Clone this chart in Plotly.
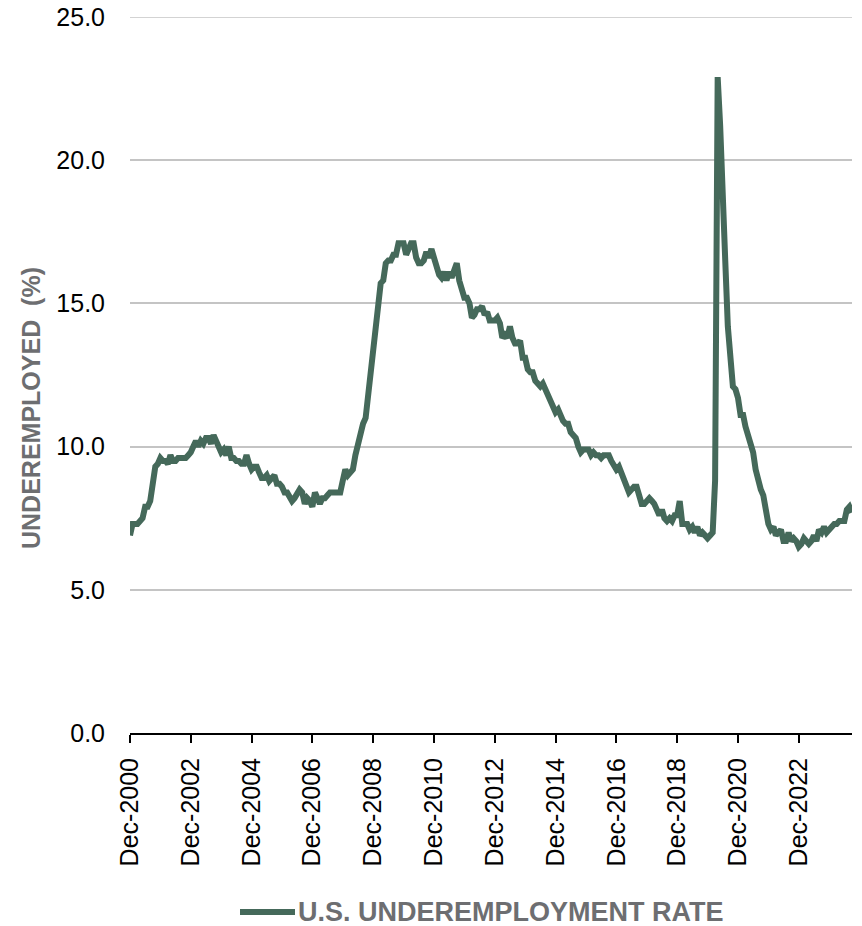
import pandas as pd
import plotly.graph_objects as go

# Monthly U.S. underemployment rate (%), Dec 2000 through Sep 2024
start_month = "2000-12-01"
end_month = "2024-09-01"
rate_2000 = [6.9]
rate_2001 = [7.3, 7.3, 7.3, 7.4, 7.5, 7.9, 7.9, 8.1, 8.7, 9.3, 9.4, 9.6]
rate_2002 = [9.5, 9.5, 9.4, 9.7, 9.5, 9.5, 9.6, 9.6, 9.6, 9.6, 9.7, 9.8]
rate_2003 = [10.0, 10.2, 10.0, 10.2, 10.1, 10.3, 10.3, 10.1, 10.4, 10.2, 10.0, 9.8]
rate_2004 = [9.9, 9.7, 10.0, 9.6, 9.6, 9.5, 9.5, 9.4, 9.4, 9.7, 9.4, 9.2]
rate_2005 = [9.3, 9.3, 9.1, 8.9, 8.9, 9.0, 8.8, 8.9, 9.0, 8.7, 8.7, 8.6]
rate_2006 = [8.4, 8.4, 8.2, 8.1, 8.2, 8.4, 8.5, 8.4, 8.0, 8.2, 8.1, 7.9]
rate_2007 = [8.4, 8.2, 8.0, 8.2, 8.2, 8.3, 8.4, 8.4, 8.4, 8.4, 8.4, 8.8]
rate_2008 = [9.2, 9.0, 9.1, 9.2, 9.7, 10.1, 10.5, 10.8, 11.0, 11.8, 12.6, 13.6]
rate_2009 = [14.2, 15.1, 15.7, 15.8, 16.4, 16.5, 16.5, 16.7, 16.7, 17.1, 17.1, 17.1]
rate_2010 = [16.7, 17.0, 17.1, 17.1, 16.6, 16.4, 16.4, 16.5, 16.8, 16.6, 16.9, 16.6]
rate_2011 = [16.2, 16.0, 15.9, 16.1, 15.8, 16.1, 15.9, 16.1, 16.4, 15.8, 15.5, 15.2]
rate_2012 = [15.2, 15.0, 14.5, 14.6, 14.8, 14.8, 14.9, 14.6, 14.7, 14.4, 14.4, 14.4]
rate_2013 = [14.5, 14.3, 13.8, 13.9, 13.8, 14.2, 13.8, 13.6, 13.6, 13.7, 13.1, 13.1]
rate_2014 = [12.7, 12.6, 12.6, 12.3, 12.2, 12.1, 12.2, 12.0, 11.7, 11.5, 11.4, 11.2]
rate_2015 = [11.3, 11.0, 10.9, 10.8, 10.8, 10.5, 10.4, 10.3, 10.0, 9.8, 9.9, 9.9]
rate_2016 = [9.9, 9.7, 9.8, 9.7, 9.7, 9.6, 9.7, 9.7, 9.7, 9.5, 9.3, 9.2]
rate_2017 = [9.3, 9.1, 8.8, 8.6, 8.4, 8.5, 8.6, 8.6, 8.3, 8.0, 8.0, 8.1]
rate_2018 = [8.2, 8.1, 8.0, 7.8, 7.6, 7.8, 7.5, 7.4, 7.5, 7.4, 7.6, 7.6]
rate_2019 = [8.1, 7.3, 7.3, 7.3, 7.1, 7.2, 7.0, 7.2, 6.9, 7.0, 6.9, 6.8]
rate_2020 = [6.9, 7.0, 8.8, 22.9, 21.2, 18.0, 16.5, 14.2, 12.8, 12.1, 12.0, 11.7]
rate_2021 = [11.1, 11.1, 10.7, 10.4, 10.2, 9.8, 9.2, 8.8, 8.5, 8.3, 7.8, 7.3]
rate_2022 = [7.1, 7.2, 6.9, 7.0, 7.1, 6.7, 6.7, 7.0, 6.7, 6.8, 6.7, 6.5]
rate_2023 = [6.6, 6.8, 6.7, 6.6, 6.7, 6.9, 6.7, 7.1, 7.0, 7.2, 7.0, 7.1]
rate_2024 = [7.2, 7.3, 7.3, 7.4, 7.4, 7.4, 7.8, 7.9, 7.7]

y_ticks = [0, 5, 10, 15, 20, 25]
series_name = "U.S. UNDEREMPLOYMENT RATE"
y_title = "UNDEREMPLOYED\u00a0\u00a0(%)"

rates = (rate_2000 + rate_2001 + rate_2002 + rate_2003 + rate_2004 + rate_2005
         + rate_2006 + rate_2007 + rate_2008 + rate_2009 + rate_2010 + rate_2011
         + rate_2012 + rate_2013 + rate_2014 + rate_2015 + rate_2016 + rate_2017
         + rate_2018 + rate_2019 + rate_2020 + rate_2021 + rate_2022 + rate_2023
         + rate_2024)
months = pd.date_range(start_month, end_month, freq="MS")

LINE = "#45695a"
GRID = "#c4c4c4"
GREY_TEXT = "#6d6e71"
FONT = "Liberation Sans, Arial, sans-serif"

W, H = 862, 926
ML, MR, MT, MB = 130, 10, 17, 193
plot_w = W - ML - MR
plot_h = H - MT - MB


def px_x(px):
    return (px - ML) / plot_w


def px_y(py):
    return (H - MB - py) / plot_h


fig = go.Figure()
fig.add_trace(go.Scatter(
    x=months, y=rates, mode="lines", name=series_name,
    line=dict(color=LINE, width=6), showlegend=False,
))

fig.update_layout(
    width=W, height=H,
    margin=dict(l=ML, r=MR, t=MT, b=MB, pad=0, autoexpand=False),
    paper_bgcolor="white", plot_bgcolor="white",
    font=dict(family=FONT, size=25, color="black"),
    xaxis=dict(
        type="date", automargin=False,
        range=[start_month, end_month],
        tick0=start_month, dtick="M24", tickformat="%b-%Y",
        tickangle=-90, ticks="outside", ticklen=8, tickwidth=2,
        tickcolor="black", showline=True, linecolor="black", linewidth=2,
        showgrid=False, zeroline=False, ticklabelstandoff=5,
        tickfont=dict(family=FONT, size=25, color="black"),
    ),
    yaxis=dict(
        automargin=False,
        range=[0, y_ticks[-1]], tickvals=y_ticks, tickformat=".1f",
        showgrid=True, gridcolor=GRID, gridwidth=1.5,
        zeroline=False, showline=False, ticks="",
        ticklabelstandoff=24,
        tickfont=dict(family=FONT, size=25, color="black"),
    ),
)

# Gridline at the top of the value range (plotly drops grid at the range edge)
fig.add_shape(
    type="line", xref="paper", yref="y", layer="below",
    x0=0, x1=1, y0=y_ticks[-1], y1=y_ticks[-1],
    line=dict(color=GRID, width=1.5),
)

# Vertical axis title
fig.add_annotation(
    text=y_title, textangle=-90, showarrow=False,
    xref="paper", yref="paper", x=px_x(31), y=px_y(408),
    xanchor="center", yanchor="middle",
    font=dict(family=FONT, size=25, color=GREY_TEXT, weight="bold"),
)

# Legend: line swatch plus bold label
fig.add_shape(
    type="line", xref="paper", yref="paper",
    x0=px_x(240), x1=px_x(295), y0=px_y(912), y1=px_y(912),
    line=dict(color=LINE, width=6),
)
fig.add_annotation(
    text=series_name, showarrow=False,
    xref="paper", yref="paper", x=px_x(296), y=px_y(912),
    xanchor="left", yanchor="middle",
    font=dict(family=FONT, size=27, color=GREY_TEXT, weight="bold"),
)

fig.write_html("out.html")
